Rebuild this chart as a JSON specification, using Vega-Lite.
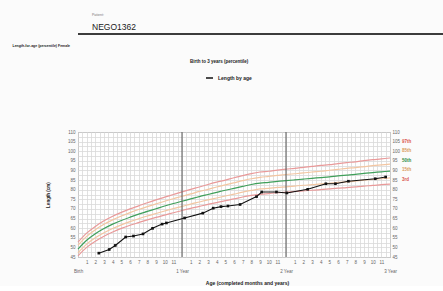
{
  "$schema": "https://vega.github.io/schema/vega-lite/v6.json",
  "background": "#fbfbfb",
  "padding": {"left": 11, "top": 13, "right": 0, "bottom": 0},
  "config": {"font": "Liberation Sans", "view": {"stroke": null}},
  "datasets": {
    "curves": [
      {"age":0,"3rd":45.6,"15th":47.2,"50th":49.1,"85th":51.1,"97th":52.7},
      {"age":1,"3rd":50.0,"15th":51.7,"50th":53.7,"85th":55.7,"97th":57.4},
      {"age":2,"3rd":53.2,"15th":55.0,"50th":57.1,"85th":59.2,"97th":60.9},
      {"age":3,"3rd":55.8,"15th":57.6,"50th":59.8,"85th":62.0,"97th":63.8},
      {"age":4,"3rd":58.0,"15th":59.8,"50th":62.1,"85th":64.3,"97th":66.2},
      {"age":5,"3rd":59.9,"15th":61.7,"50th":64.0,"85th":66.3,"97th":68.2},
      {"age":6,"3rd":61.5,"15th":63.4,"50th":65.7,"85th":68.1,"97th":70.0},
      {"age":7,"3rd":62.9,"15th":64.9,"50th":67.3,"85th":69.7,"97th":71.6},
      {"age":8,"3rd":64.3,"15th":66.3,"50th":68.7,"85th":71.2,"97th":73.2},
      {"age":9,"3rd":65.6,"15th":67.6,"50th":70.1,"85th":72.6,"97th":74.7},
      {"age":10,"3rd":66.8,"15th":68.9,"50th":71.5,"85th":74.0,"97th":76.1},
      {"age":11,"3rd":68.0,"15th":70.2,"50th":72.8,"85th":75.3,"97th":77.5},
      {"age":12,"3rd":69.2,"15th":71.3,"50th":74.0,"85th":76.6,"97th":78.9},
      {"age":13,"3rd":70.3,"15th":72.5,"50th":75.2,"85th":77.8,"97th":80.2},
      {"age":14,"3rd":71.3,"15th":73.6,"50th":76.4,"85th":79.1,"97th":81.4},
      {"age":15,"3rd":72.4,"15th":74.7,"50th":77.5,"85th":80.2,"97th":82.7},
      {"age":16,"3rd":73.3,"15th":75.7,"50th":78.6,"85th":81.4,"97th":83.9},
      {"age":17,"3rd":74.3,"15th":76.7,"50th":79.7,"85th":82.5,"97th":85.0},
      {"age":18,"3rd":75.2,"15th":77.7,"50th":80.7,"85th":83.6,"97th":86.2},
      {"age":19,"3rd":76.2,"15th":78.7,"50th":81.7,"85th":84.7,"97th":87.3},
      {"age":20,"3rd":77.0,"15th":79.6,"50th":82.7,"85th":85.7,"97th":88.4},
      {"age":21,"3rd":77.6,"15th":80.4,"50th":83.4,"85th":86.4,"97th":89.2},
      {"age":22,"3rd":78.0,"15th":80.7,"50th":83.8,"85th":86.9,"97th":89.6},
      {"age":23,"3rd":78.4,"15th":81.2,"50th":84.3,"85th":87.4,"97th":90.2},
      {"age":24,"3rd":78.7,"15th":81.5,"50th":84.7,"85th":87.9,"97th":90.7},
      {"age":25,"3rd":79.1,"15th":81.9,"50th":85.1,"85th":88.3,"97th":91.1},
      {"age":26,"3rd":79.4,"15th":82.3,"50th":85.5,"85th":88.7,"97th":91.6},
      {"age":27,"3rd":79.7,"15th":82.6,"50th":85.9,"85th":89.2,"97th":92.1},
      {"age":28,"3rd":80.0,"15th":83.0,"50th":86.3,"85th":89.6,"97th":92.6},
      {"age":29,"3rd":80.4,"15th":83.3,"50th":86.7,"85th":90.1,"97th":93.0},
      {"age":30,"3rd":80.8,"15th":83.8,"50th":87.2,"85th":90.6,"97th":93.6},
      {"age":31,"3rd":81.1,"15th":84.1,"50th":87.6,"85th":91.1,"97th":94.1},
      {"age":32,"3rd":81.5,"15th":84.5,"50th":88.0,"85th":91.5,"97th":94.5},
      {"age":33,"3rd":81.9,"15th":85.0,"50th":88.5,"85th":92.0,"97th":95.1},
      {"age":34,"3rd":82.2,"15th":85.3,"50th":88.9,"85th":92.5,"97th":95.6},
      {"age":35,"3rd":82.6,"15th":85.7,"50th":89.3,"85th":92.9,"97th":96.0},
      {"age":36,"3rd":82.9,"15th":86.1,"50th":89.7,"85th":93.3,"97th":96.5}
    ],
    "child": [
      {"age":2.4,"cm":47.0},{"age":3.6,"cm":48.9},{"age":4.3,"cm":51.0},
      {"age":5.5,"cm":55.4},{"age":6.4,"cm":55.9},{"age":7.5,"cm":57.0},
      {"age":8.6,"cm":59.9},{"age":9.7,"cm":62.1},{"age":10.2,"cm":62.7},
      {"age":12.3,"cm":65.3},{"age":14.4,"cm":67.8},{"age":15.6,"cm":70.4},
      {"age":16.5,"cm":71.2},{"age":17.3,"cm":71.5},{"age":18.7,"cm":72.3},
      {"age":20.6,"cm":76.4},{"age":21.2,"cm":78.8},{"age":22.9,"cm":78.8},
      {"age":24.1,"cm":78.3},{"age":26.5,"cm":80.2},{"age":28.6,"cm":83.1},
      {"age":29.7,"cm":83.1},{"age":31.2,"cm":84.4},{"age":34.3,"cm":85.7},
      {"age":35.5,"cm":86.6}
    ],
    "years": [{"age":12},{"age":24}],
    "labels": [
      {"pct":"97th","level":105},{"pct":"85th","level":100},{"pct":"50th","level":95},
      {"pct":"15th","level":90},{"pct":"3rd","level":85}
    ]
  },
  "spacing": 8,
  "resolve": {"legend": {"stroke": "independent"}},
  "vconcat": [
    {
      "width": 432,
      "height": 2,
      "data": {"values": [{}]},
      "mark": {"type": "rect", "color": "#3c3c3c"},
      "encoding": {},
      "view": {"fill": "#3c3c3c", "stroke": null},
      "title": {
        "text": "Patient:",
        "subtitle": "NEGO1362",
        "anchor": "start",
        "frame": "group",
        "dx": 14,
        "fontSize": 3.5,
        "fontWeight": "normal",
        "color": "#777777",
        "subtitleFontSize": 8.5,
        "subtitleColor": "#1a1a1a",
        "subtitlePadding": 6,
        "offset": 2
      }
    },
    {
      "width": 312,
      "height": 125,
      "view": {"stroke": "#8a8a8a", "fill": "#ffffff"},
      "title": {
        "text": "Length-for-age (percentile) Female",
        "anchor": "start",
        "frame": "bounds",
        "dx": -33,
        "fontSize": 3.5,
        "fontWeight": "bold",
        "color": "#222222",
        "offset": 12
      },
      "resolve": {"axis": {"y": "independent"}, "legend": {"stroke": "independent"}},
      "layer": [
        {
          "data": {"name": "curves"},
          "transform": [{"fold": ["97th","85th","50th","15th","3rd"], "as": ["pct","cm"]}],
          "mark": {"type": "line", "strokeWidth": 1.2, "interpolate": "monotone"},
          "encoding": {
            "x": {
              "field": "age", "type": "quantitative",
              "scale": {"domain": [0,36], "nice": false, "zero": false},
              "axis": {
                "values": [0,0.5,1,1.5,2,2.5,3,3.5,4,4.5,5,5.5,6,6.5,7,7.5,8,8.5,9,9.5,10,10.5,11,11.5,12,12.5,13,13.5,14,14.5,15,15.5,16,16.5,17,17.5,18,18.5,19,19.5,20,20.5,21,21.5,22,22.5,23,23.5,24,24.5,25,25.5,26,26.5,27,27.5,28,28.5,29,29.5,30,30.5,31,31.5,32,32.5,33,33.5,34,34.5,35,35.5,36],
                "tickCount": 200,
                "labelExpr": "datum.value % 12 === 0 ? ['', datum.value === 0 ? 'Birth' : (datum.value / 12) + ' Year'] : (datum.value % 1 === 0 ? '' + (datum.value % 12) : '')",
                "labelOverlap": false,
                "labelFlush": false,
                "labelBound": false,
                "labelFontSize": 4.5,
                "labelColor": "#666666",
                "labelLineHeight": 9,
                "labelPadding": 2,
                "ticks": false,
                "domain": false,
                "grid": true,
                "gridColor": "#d9d9d9",
                "gridWidth": 0.8,
                "title": "Age (completed months and years)",
                "titleFontSize": 5,
                "titleFontWeight": "bold",
                "titleColor": "#222222",
                "titlePadding": 8,
                "titleX": 169
              }
            },
            "y": {
              "field": "cm", "type": "quantitative",
              "scale": {"domain": [45,110], "nice": false, "zero": false},
              "axis": {
                "values": [45,47.5,50,52.5,55,57.5,60,62.5,65,67.5,70,72.5,75,77.5,80,82.5,85,87.5,90,92.5,95,97.5,100,102.5,105,107.5,110],
                "tickCount": 200,
                "format": "d",
                "labelExpr": "datum.value % 5 === 0 ? datum.label : ''",
                "labelOverlap": false,
                "labelFontSize": 4.5,
                "labelColor": "#666666",
                "labelPadding": 3,
                "ticks": false,
                "domain": false,
                "grid": true,
                "gridColor": "#d9d9d9",
                "gridWidth": 0.8,
                "title": "Length (cm)",
                "titleFontSize": 4.5,
                "titleFontWeight": "bold",
                "titleColor": "#222222",
                "titlePadding": 17
              }
            },
            "color": {
              "field": "pct", "type": "nominal",
              "scale": {"domain": ["97th","85th","50th","15th","3rd"], "range": ["#e99a9a","#f3c6a2","#3f9f5a","#f3c6a2","#e99a9a"]},
              "legend": null
            }
          }
        },
        {
          "data": {"name": "years"},
          "mark": {"type": "rule", "color": "#555555", "strokeWidth": 1},
          "encoding": {
            "x": {"field": "age", "type": "quantitative", "scale": {"domain": [0,36], "nice": false, "zero": false}}
          }
        },
        {
          "data": {"name": "child"},
          "mark": {"type": "line", "strokeWidth": 1.1},
          "encoding": {
            "x": {"field": "age", "type": "quantitative", "scale": {"domain": [0,36], "nice": false, "zero": false}},
            "y": {"field": "cm", "type": "quantitative", "scale": {"domain": [45,110], "nice": false, "zero": false}, "axis": null},
            "stroke": {
              "datum": "Length by age", "type": "nominal",
              "scale": {"range": ["#111111"]},
              "legend": {
                "orient": "none",
                "legendX": 112,
                "legendY": -73,
                "title": "Birth to 3 years (percentile)",
                "titleFontSize": 4.5,
                "titleFontWeight": "bold",
                "titleColor": "#222222",
                "titlePadding": 10,
                "labelFontSize": 5,
                "labelFontWeight": "bold",
                "labelColor": "#222222",
                "symbolType": "stroke",
                "symbolSize": 50,
                "symbolStrokeWidth": 1.5,
                "symbolOffset": 15,
                "direction": "horizontal",
                "padding": 0
              }
            }
          }
        },
        {
          "data": {"name": "child"},
          "mark": {"type": "point", "filled": true, "shape": "square", "size": 7, "color": "#111111", "opacity": 1},
          "encoding": {
            "x": {"field": "age", "type": "quantitative", "scale": {"domain": [0,36], "nice": false, "zero": false}},
            "y": {
              "field": "cm", "type": "quantitative",
              "scale": {"domain": [45,110], "nice": false, "zero": false},
              "axis": {
                "orient": "right",
                "values": [45,50,55,60,65,70,75,80,85,90,95,100,105,110],
                "tickCount": 200,
                "format": "d",
                "labelOverlap": false,
                "labelFontSize": 4.5,
                "labelColor": "#666666",
                "labelPadding": 2,
                "ticks": false,
                "domain": false,
                "grid": false,
                "title": null
              }
            }
          }
        },
        {
          "data": {"name": "labels"},
          "mark": {"type": "text", "align": "left", "baseline": "middle", "dx": 12, "fontSize": 4.5, "fontWeight": "bold"},
          "encoding": {
            "x": {"datum": 36, "type": "quantitative", "scale": {"domain": [0,36], "nice": false, "zero": false}},
            "y": {"field": "level", "type": "quantitative", "scale": {"domain": [45,110], "nice": false, "zero": false}, "axis": null},
            "text": {"field": "pct"},
            "fill": {
              "field": "pct", "type": "nominal",
              "scale": {"domain": ["97th","85th","50th","15th","3rd"], "range": ["#d9534f","#d99a5e","#2e8b47","#d99a5e","#d9534f"]},
              "legend": null
            }
          }
        }
      ]
    }
  ]
}
